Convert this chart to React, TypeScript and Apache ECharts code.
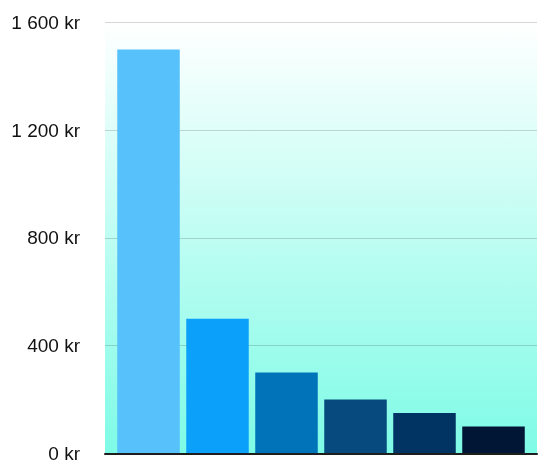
import { useEffect, useRef } from 'react'
import * as echarts from 'echarts'

// values (kr)
const categories = ['A', 'B', 'C', 'D', 'E', 'F']
const values = [1500, 500, 300, 200, 150, 100]
const barColors = ['#56c1fb', '#0ba0fa', '#0073b9', '#064a7e', '#013463', '#011535']
const yTicks = [0, 400, 800, 1200, 1600]

export default function App() {
  const chartRef = useRef<HTMLDivElement>(null)

  useEffect(() => {
    if (!chartRef.current) return
    const chart = echarts.init(chartRef.current, null, { renderer: 'svg' })

    const yMax = yTicks[yTicks.length - 1]
    const yStep = yTicks[1] - yTicks[0]

    const option = {
      animation: false,
      grid: [
        {
          left: 105,
          right: 23,
          top: 22.5,
          bottom: 20.7,
          show: true,
          borderWidth: 0,
          backgroundColor: new echarts.graphic.LinearGradient(0, 0, 0, 1, [
            { offset: 0, color: '#ffffff' },
            { offset: 1, color: '#7efbe6' }
          ])
        },
        { left: 114, right: 32, top: 22.5, bottom: 20.7 }
      ],
      xAxis: [
        {
          type: 'category',
          gridIndex: 0,
          data: [''],
          axisLine: { show: true, lineStyle: { color: '#1e1e1e', width: 2 } },
          axisTick: { show: false },
          axisLabel: { show: false },
          z: 5
        },
        {
          type: 'category',
          gridIndex: 1,
          data: categories,
          axisLine: { show: false },
          axisTick: { show: false },
          axisLabel: { show: false }
        }
      ],
      yAxis: [
        {
          type: 'value',
          gridIndex: 0,
          min: 0,
          max: yMax,
          interval: yStep,
          axisLine: { show: false },
          axisTick: { show: false },
          axisLabel: {
            margin: 25,
            color: '#111111',
            fontSize: 19,
            fontFamily: 'Liberation Sans, Arial, sans-serif',
            formatter: (v: number) => {
              const s = String(v).replace(/\B(?=(\d{3})+(?!\d))/g, ' ')
              return `${s} kr`
            }
          },
          splitLine: { lineStyle: { color: 'rgba(0,0,0,0.16)', width: 1.2 } }
        },
        {
          type: 'value',
          gridIndex: 1,
          min: 0,
          max: yMax,
          interval: yStep,
          axisLine: { show: false },
          axisTick: { show: false },
          axisLabel: { show: false },
          splitLine: { show: false }
        }
      ],
      series: [
        {
          type: 'bar',
          xAxisIndex: 1,
          yAxisIndex: 1,
          barWidth: 62.5,
          data: values.map((v, i) => ({
            value: v,
            itemStyle: { color: barColors[i] }
          }))
        }
      ]
    }

    chart.setOption(option)

    const handleResize = () => {
      chart.resize()
    }
    window.addEventListener('resize', handleResize)

    return () => {
      window.removeEventListener('resize', handleResize)
      chart.dispose()
    }
  }, [])

  return (
    <div
      ref={chartRef}
      style={{ position: 'fixed', left: 0, top: 0, width: 560, height: 474 }}
    />
  )
}
